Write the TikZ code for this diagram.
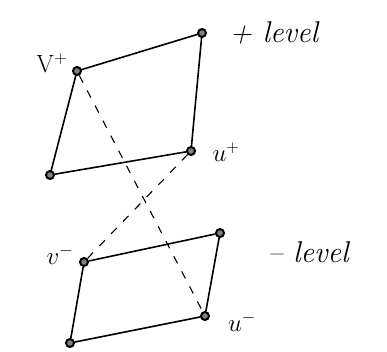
\documentclass[tikz,border=0pt]{standalone}
\begin{document}
\begin{tikzpicture}[x=1pt,y=-1pt,
  vert/.style={circle,draw,line width=2pt,fill=gray,inner sep=0pt,minimum size=8pt},
  edge/.style={line width=1.6pt,line cap=round},
  dashedge/.style={line width=1.1pt,dash pattern=on 8pt off 9pt},
  lbl/.style={font=\fontsize{24}{28}\selectfont\itshape},
  biglbl/.style={font=\fontsize{30}{34}\selectfont\itshape}]
\useasboundingbox (0,0) rectangle (387,351);
% upper level
\node[vert] (pTR) at (202,33) {};
\node[vert] (vp) at (77,71) {};
\node[vert] (up) at (191,151) {};
\node[vert] (pBL) at (50,175) {};
% lower level
\node[vert] (mTR) at (220,233) {};
\node[vert] (vm) at (84,262) {};
\node[vert] (um) at (205,316) {};
\node[vert] (mBL) at (70,343) {};
\draw[edge] (vp) -- (pTR) -- (up) -- (pBL) -- (vp);
\draw[edge] (vm) -- (mTR) -- (um) -- (mBL) -- (vm);
\draw[dashedge] (vp) -- (um);
\draw[dashedge] (up) -- (vm);
% labels
\node[lbl] (lvp) at (52,63) {$\mathrm{V}^{+}$};
\node[lbl] (lup) at (226,152) {$u^{+}$};
\node[lbl] (lvm) at (60,255) {$v^{-}$};
\node[lbl] (lum) at (242,322) {$u^{-}$};
\node[biglbl,anchor=west] (lplus) at (226,33) {+ \textit{level}};
\node[biglbl,anchor=west] (lminus) at (264,252) {-- \textit{level}};
\end{tikzpicture}
\end{document}
